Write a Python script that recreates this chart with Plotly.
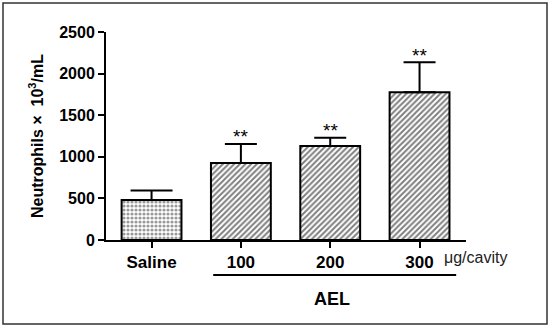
import plotly.graph_objects as go

categories = ["Saline", "100", "200", "300"]
means = [480, 925, 1130, 1775]
sem = [115, 230, 100, 360]
stars = ["", "**", "**", "**"]
y_ticks = [0, 500, 1000, 1500, 2000, 2500]

FONT = "Liberation Sans, Arial, sans-serif"
xpos = list(range(len(categories)))

fig = go.Figure()
# Saline bar (dotted pattern, wider error cap)
fig.add_trace(go.Bar(
    x=xpos[:1], y=means[:1], width=0.67,
    marker=dict(color="white", line=dict(color="black", width=2),
                pattern=dict(shape=".", fgcolor="#333333", bgcolor="white",
                             size=4, solidity=0.5)),
    error_y=dict(type="data", symmetric=False, array=sem[:1], arrayminus=[0],
                 color="black", thickness=2, width=21),
    showlegend=False,
))
# AEL bars (hatched)
fig.add_trace(go.Bar(
    x=xpos[1:], y=means[1:], width=0.67,
    marker=dict(color="white", line=dict(color="black", width=2),
                pattern=dict(shape="/", fgcolor="black", bgcolor="white",
                             size=4, solidity=0.5)),
    error_y=dict(type="data", symmetric=False, array=sem[1:],
                 arrayminus=[0] * (len(sem) - 1),
                 color="black", thickness=2, width=16),
    showlegend=False,
))

for i, (m, e, s) in enumerate(zip(means, sem, stars)):
    if s:
        fig.add_annotation(x=i, y=m + e, text=s, showarrow=False,
                           yanchor="middle", yshift=7,
                           font=dict(family=FONT, size=19, color="black"))

fig.add_annotation(x=3.25, y=-0.086, xref="x", yref="paper", text="μg/cavity",
                   showarrow=False, xanchor="left", yanchor="middle",
                   font=dict(family=FONT, size=16, color="#222222"))
fig.add_shape(type="line", xref="x", yref="paper", x0=0.69, x1=3.41,
              y0=-0.168, y1=-0.168, line=dict(color="black", width=2))
fig.add_annotation(x=2.02, y=-0.284, xref="x", yref="paper", text="<b>AEL</b>",
                   showarrow=False, yanchor="middle",
                   font=dict(family=FONT, size=18, color="black"))

# outer frame
fig.add_shape(type="rect", xref="paper", yref="paper",
              x0=(3 - 106) / 360, x1=(547 - 106) / 360,
              y0=(240 - 324) / 208, y1=(240 - 3) / 208,
              line=dict(color="#333333", width=1.5))

fig.update_layout(
    width=550, height=327,
    margin=dict(l=106, r=84, t=32, b=87),
    paper_bgcolor="white", plot_bgcolor="white",
    font=dict(family=FONT, color="black"),
    barmode="overlay",
)
fig.update_xaxes(
    range=[-0.51, 3.52], tickvals=xpos,
    ticktext=[f"<b>{c}</b>" for c in categories],
    tickfont=dict(size=17, family=FONT),
    showline=True, linecolor="black", linewidth=2,
    ticks="outside", ticklen=6, tickwidth=2, tickcolor="black",
    showgrid=False, zeroline=False,
)
fig.update_yaxes(
    range=[0, 2500], tickvals=y_ticks,
    ticktext=[f"<b>{t}</b>" for t in y_ticks],
    tickfont=dict(size=16, family=FONT),
    showline=True, linecolor="black", linewidth=2,
    ticks="outside", ticklen=6, tickwidth=2, tickcolor="black",
    showgrid=False, zeroline=False,
    title=dict(text="<b>Neutrophils ×  10<sup>3</sup>/mL</b>",
               font=dict(size=16, family=FONT), standoff=12),
)

fig.write_html("out.html",
               config={"displayModeBar": False},
               post_script="document.body.style.margin='0';")
